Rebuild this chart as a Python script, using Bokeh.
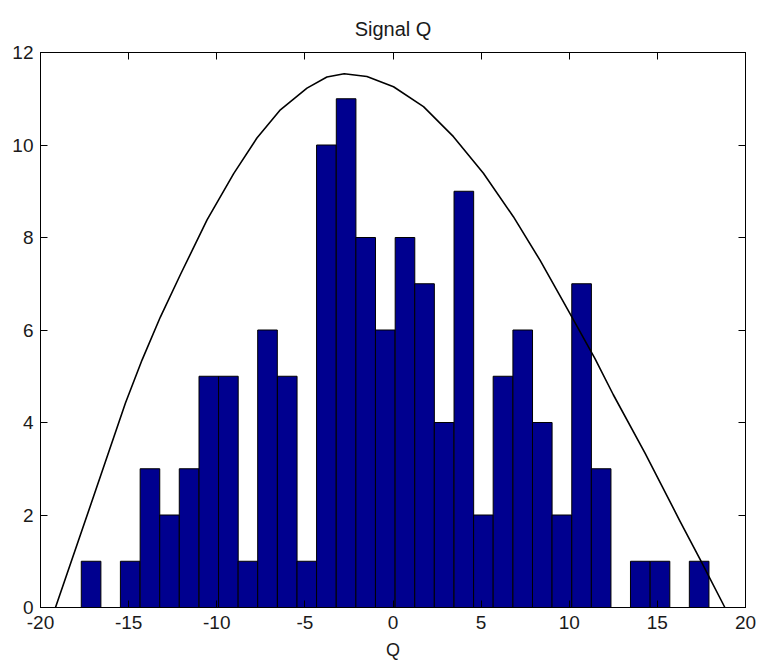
from bokeh.plotting import figure
from bokeh.models import LinearAxis, Range1d, FixedTicker, CustomJSTickFormatter
from bokeh.embed import file_html
from bokeh.resources import INLINE

# Histogram of signal Q: bin centres and counts
bin_centers = [-17.13, -16.02, -14.91, -13.79, -12.68, -11.57, -10.45, -9.34,
               -8.23, -7.12, -6.00, -4.89, -3.78, -2.66, -1.55, -0.44,
               0.68, 1.79, 2.90, 4.02, 5.13, 6.24, 7.36, 8.47,
               9.58, 10.70, 11.81, 12.92, 14.03, 15.15, 16.26, 17.37]
bin_counts = [1, 0, 1, 3, 2, 3, 5, 5,
              1, 6, 5, 1, 10, 11, 8, 6,
              8, 7, 4, 9, 2, 5, 6, 4,
              2, 7, 3, 0, 1, 1, 0, 1]
bin_width = 1.113

# Fitted envelope curve
curve_x = [-19.15, -17.17, -15.18, -14.24, -13.20, -12.06, -10.55, -9.04,
           -7.72, -6.39, -4.88, -3.75, -2.77, -1.48, 0.03, 1.73,
           3.43, 5.13, 6.83, 8.34, 10.05, 11.46, 12.50, 14.30,
           16.28, 17.41, 18.83]
curve_y = [0.0, 2.20, 4.42, 5.35, 6.28, 7.20, 8.38, 9.38,
           10.15, 10.76, 11.23, 11.47, 11.54, 11.48, 11.26, 10.83,
           10.18, 9.39, 8.45, 7.51, 6.35, 5.38, 4.60, 3.34,
           1.87, 1.05, 0.0]

x_ticks = [-20, -15, -10, -5, 0, 5, 10, 15, 20]
y_ticks = [0, 2, 4, 6, 8, 10, 12]

FONT = "Liberation Sans"
TEXT = "#1a1a1a"

p = figure(width=758, height=662, output_backend="svg", toolbar_location=None,
           x_range=Range1d(-20, 20), y_range=Range1d(0, 12),
           min_border_left=40, min_border_right=13,
           min_border_top=52, min_border_bottom=55,
           title="Signal Q", background_fill_color="white",
           border_fill_color="white")

p.grid.visible = False
p.outline_line_color = "black"
p.outline_line_width = 1

p.title.align = "center"
p.title.text_font = FONT
p.title.text_font_size = "20px"
p.title.text_font_style = "normal"
p.title.text_color = TEXT
p.title.standoff = 25

p.vbar(x=bin_centers, top=bin_counts, width=bin_width,
       fill_color="#00008F", line_color="black", line_width=1)
p.line(curve_x, curve_y, line_color="black", line_width=1.6,
       line_join="round")

# tick marks on all four sides, pointing inwards
p.add_layout(LinearAxis(), "above")
p.add_layout(LinearAxis(), "right")

for ax in p.xaxis:
    ax.ticker = FixedTicker(ticks=x_ticks)
for ax in p.yaxis:
    ax.ticker = FixedTicker(ticks=y_ticks)

plain = CustomJSTickFormatter(code="return tick.toString()")
blank = CustomJSTickFormatter(code="return ''")

for ax in p.axis:
    ax.major_tick_in = 7
    ax.major_tick_out = 0
    ax.minor_tick_line_color = None
    ax.axis_line_color = "black"
    ax.major_tick_line_color = "black"
    ax.major_label_text_font = FONT
    ax.major_label_text_font_size = "19px"
    ax.major_label_text_color = TEXT

p.below[0].formatter = plain
p.left[0].formatter = plain
p.above[0].formatter = blank
p.right[0].formatter = blank
p.above[0].major_label_standoff = 0
p.right[0].major_label_standoff = 0

p.below[0].major_label_standoff = 8
p.left[0].major_label_standoff = 7
p.below[0].axis_label = "Q"
p.below[0].axis_label_text_font = FONT
p.below[0].axis_label_text_font_size = "18px"
p.below[0].axis_label_text_font_style = "normal"
p.below[0].axis_label_text_color = TEXT
p.below[0].axis_label_standoff = 8

open("out.html", "w").write(file_html(p, INLINE))
